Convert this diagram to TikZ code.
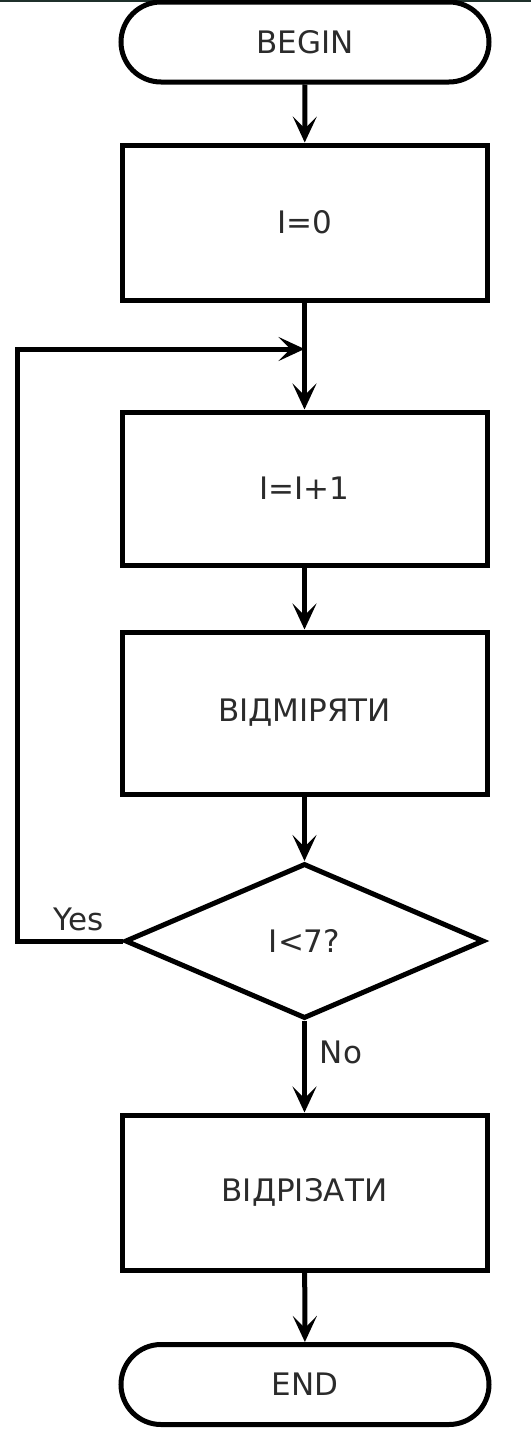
\documentclass[tikz,border=0pt]{standalone}
\usepackage{fontspec}
\setmainfont{DejaVu Sans}
\usetikzlibrary{shapes.geometric,arrows.meta}
\definecolor{textgray}{HTML}{2B2B2B}
\definecolor{topbar}{HTML}{1F302B}
\begin{document}
\begin{tikzpicture}[x=1pt,y=-1pt,
  every node/.style={font=\fontsize{31}{37}\selectfont, text=textgray},
  terminal/.style={draw, line width=5pt, rounded corners=40pt,
    minimum width=368pt, minimum height=80pt, inner sep=0pt},
  procbox/.style={draw, line width=5pt, minimum width=365pt, inner sep=0pt},
  decision/.style={draw, diamond, line width=5pt, minimum width=359pt,
    minimum height=155pt, inner sep=0pt},
  flow/.style={line width=5pt, -{Stealth[length=26pt,width=24pt,inset=12pt]}},
  lbl/.style={font=\fontsize{31}{37}\selectfont}]
\useasboundingbox (0,0) rectangle (531,1432);
\fill[topbar] (0,0) rectangle (531,2);

% blocks of the flowchart
\node[terminal] (begin) at (305,42) {BEGIN};
\node[procbox, minimum height=155pt] (init) at (304.5,222.5) {I=0};
\node[procbox, minimum height=153pt] (inc) at (304.5,488.5) {I=I+1};
\node[procbox, minimum height=162pt] (meas) at (304.5,713) {ВІДМІРЯТИ};
\node[decision] (test) at (304.5,941) {I<7?};
\node[procbox, minimum height=155pt] (cut) at (304.5,1192.5) {ВІДРІЗАТИ};
\node[terminal] (end) at (305,1384.5) {END};

% helper points of the loop
\coordinate (join) at (304.5,349);
\coordinate (lx) at (17,0);

% connectors
\draw[flow] (begin) -- (init);
\draw[flow] (init) -- (inc);
\draw[flow] (inc) -- (meas);
\draw[flow] (meas) -- (test);
\draw[flow] (test.west) -- (test.west -| lx) |- (join);
\draw[flow] (test) -- (cut);
\draw[flow] (cut) -- (end);

% branch labels
\node[lbl] (yes) at (79,919) {Yes};
\node[lbl] (no) at (341,1052) {No};
\end{tikzpicture}
\end{document}
